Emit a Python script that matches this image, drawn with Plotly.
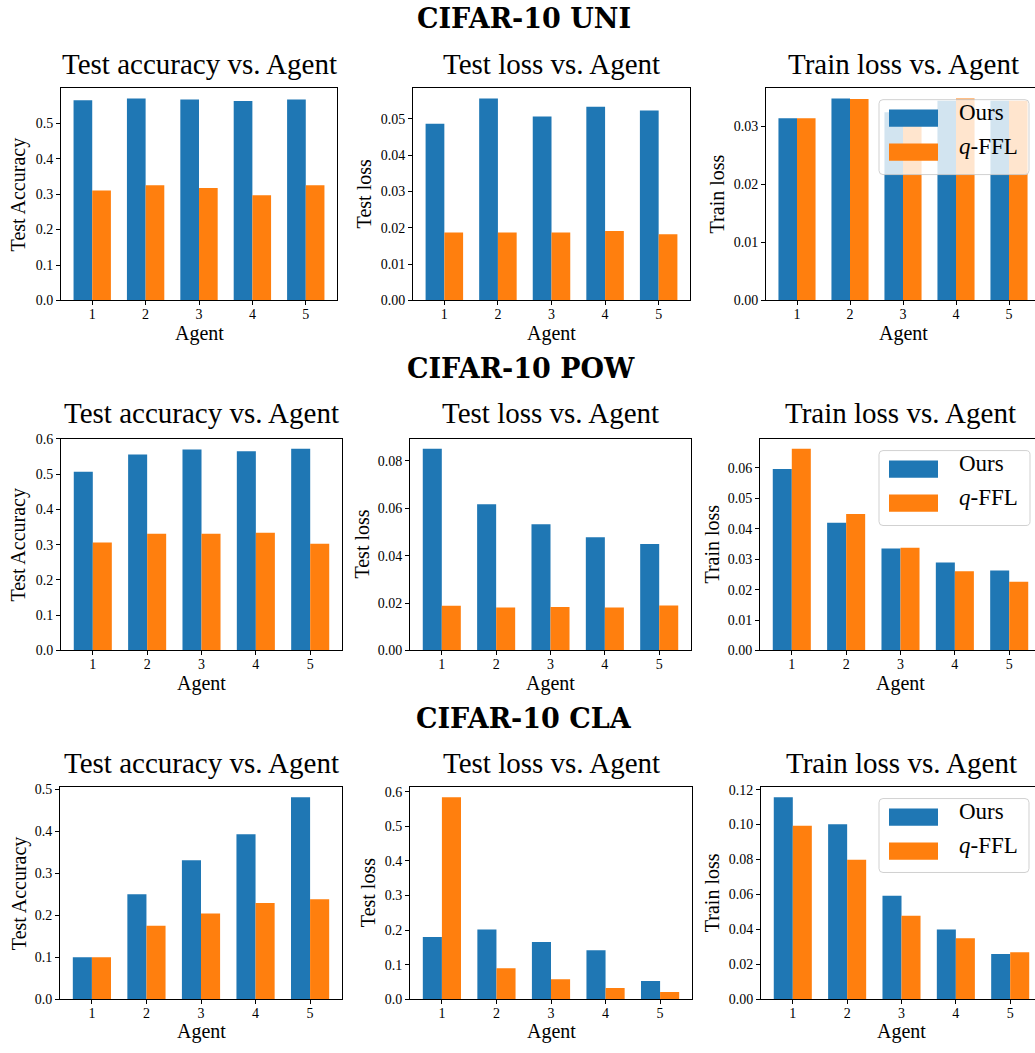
import plotly.graph_objects as go

W, H = 1035, 1053
BLUE = "#1f77b4"
ORANGE = "#ff7f0e"
SERIF = "Liberation Serif"

agents = [1, 2, 3, 4, 5]
series_names = ["Ours", "<i>q</i>-FFL"]
row_titles = ["CIFAR-10 UNI", "CIFAR-10 POW", "CIFAR-10 CLA"]
panel_titles = ["Test accuracy vs. Agent", "Test loss vs. Agent", "Train loss vs. Agent"]
y_labels = ["Test Accuracy", "Test loss", "Train loss"]

# CIFAR-10 UNI
uni_acc_ours = [0.565, 0.570, 0.567, 0.563, 0.567]
uni_acc_qffl = [0.310, 0.325, 0.317, 0.297, 0.325]
uni_testloss_ours = [0.0486, 0.0556, 0.0506, 0.0533, 0.0523]
uni_testloss_qffl = [0.0187, 0.0187, 0.0187, 0.0191, 0.0182]
uni_trainloss_ours = [0.0314, 0.0348, 0.0324, 0.0344, 0.0344]
uni_trainloss_qffl = [0.0314, 0.0347, 0.0302, 0.0348, 0.0344]

# CIFAR-10 POW
pow_acc_ours = [0.507, 0.556, 0.570, 0.565, 0.572]
pow_acc_qffl = [0.306, 0.331, 0.331, 0.334, 0.303]
pow_testloss_ours = [0.0851, 0.0617, 0.0533, 0.0478, 0.0449]
pow_testloss_qffl = [0.0188, 0.0181, 0.0183, 0.0181, 0.0190]
pow_trainloss_ours = [0.0597, 0.0420, 0.0335, 0.0289, 0.0263]
pow_trainloss_qffl = [0.0663, 0.0449, 0.0338, 0.0260, 0.0226]

# CIFAR-10 CLA
cla_acc_ours = [0.100, 0.250, 0.331, 0.393, 0.481]
cla_acc_qffl = [0.100, 0.175, 0.204, 0.229, 0.238]
cla_testloss_ours = [0.180, 0.202, 0.166, 0.142, 0.053]
cla_testloss_qffl = [0.584, 0.090, 0.058, 0.033, 0.021]
cla_trainloss_ours = [0.1157, 0.1002, 0.0593, 0.0399, 0.0260]
cla_trainloss_qffl = [0.0993, 0.0799, 0.0479, 0.0349, 0.0269]

data = [
    [(uni_acc_ours, uni_acc_qffl), (uni_testloss_ours, uni_testloss_qffl), (uni_trainloss_ours, uni_trainloss_qffl)],
    [(pow_acc_ours, pow_acc_qffl), (pow_testloss_ours, pow_testloss_qffl), (pow_trainloss_ours, pow_trainloss_qffl)],
    [(cla_acc_ours, cla_acc_qffl), (cla_testloss_ours, cla_testloss_qffl), (cla_trainloss_ours, cla_trainloss_qffl)],
]

# tick spacing / label format per panel
tick_steps = [[0.1, 0.01, 0.01], [0.1, 0.02, 0.01], [0.1, 0.1, 0.02]]
tick_formats = [[".1f", ".2f", ".2f"], [".1f", ".2f", ".2f"], [".1f", ".1f", ".2f"]]

# panel frames in pixels: (left, right, top, bottom); the third column runs past the page edge
frames = [
    [(61, 337, 82.5, 297.7), (413, 690, 82.5, 297.7), (766, 1040, 82.5, 297.7)],
    [(61, 342, 438, 652.7), (410, 691, 438, 652.7), (760, 1041, 438, 652.7)],
    [(60, 342, 791.3, 1006.7), (410, 692, 791.3, 1006.7), (761, 1042, 791.3, 1006.7)],
]
row_title_y = [18, 373, 728]
row_title_x = [524, 521, 524]
panel_title_y = [64.5, 419, 774]
agent_label_y = [331, 686, 1039.5]
ylabel_x = [[18, 364, 717], [19, 362, 712], [19, 368, 712]]
legend_boxes = [(879, 94, 1029, 170), (879, 450, 1030, 526), (879, 803, 1029, 878)]

X_LO, X_HI = 0.415, 5.585


def px(x):
    return x / W


def py(y):
    return 1 - y / H


def text_note(text, x, y, size, family=SERIF, angle=0, xanchor="center", lift=0.24):
    # text boxes sit a little low relative to the cap height; lift by a fraction of the font size
    y = y - lift * size
    return dict(
        text=text, x=px(x), y=py(y), xref="paper", yref="paper",
        xanchor=xanchor, yanchor="middle", showarrow=False, textangle=angle,
        font=dict(family=family, size=size, color="black"),
    )


fig = go.Figure()
layout = dict(
    width=W, height=H,
    margin=dict(l=0, r=0, t=0, b=0),
    paper_bgcolor="white", plot_bgcolor="white",
    barmode="group", bargap=0.3, bargroupgap=0,
    showlegend=False,
    font=dict(family=SERIF, color="black"),
)
annotations = []
shapes = []

k = 0
for r in range(3):
    annotations.append(text_note("<b>%s</b>" % row_titles[r], row_title_x[r], row_title_y[r],
                                 27, family="DejaVu Serif"))
    for c in range(3):
        k += 1
        xa = "x" if k == 1 else "x%d" % k
        ya = "y" if k == 1 else "y%d" % k
        ours, qffl = data[r][c]
        for vals, col, name in ((ours, BLUE, series_names[0]), (qffl, ORANGE, series_names[1])):
            fig.add_trace(go.Bar(
                x=agents, y=vals, name=name, xaxis=xa, yaxis=ya,
                marker=dict(color=col, line=dict(width=0)),
            ))
        left, right, top, bottom = frames[r][c]
        vis_right = min(right, W)
        x_hi = X_LO + (X_HI - X_LO) * (vis_right - left) / (right - left)
        ymax = max(max(ours), max(qffl)) * 1.05
        layout["xaxis" if k == 1 else "xaxis%d" % k] = dict(
            domain=[px(left), px(vis_right)], range=[X_LO, x_hi], anchor=ya,
            tickmode="array", tickvals=agents, ticktext=[str(a) for a in agents],
            ticks="outside", ticklen=4, tickwidth=1, tickcolor="black",
            ticklabelstandoff=-3,
            showline=True, linecolor="black", linewidth=1, mirror=True,
            showgrid=False, zeroline=False,
            tickfont=dict(family=SERIF, size=14, color="black"),
        )
        layout["yaxis" if k == 1 else "yaxis%d" % k] = dict(
            domain=[py(bottom), py(top)], range=[0, ymax], anchor=xa,
            tick0=0, dtick=tick_steps[r][c], tickformat=tick_formats[r][c],
            ticks="outside", ticklen=4, tickwidth=1, tickcolor="black",
            showline=True, linecolor="black", linewidth=1, mirror=(c < 2),
            showgrid=False, zeroline=False,
            tickfont=dict(family=SERIF, size=14, color="black"),
        )
        cx = (left + right) / 2
        annotations.append(text_note(panel_titles[c], cx, panel_title_y[r], 29))
        annotations.append(text_note("Agent", cx, agent_label_y[r] + 2, 20, lift=0.1))
        annotations.append(text_note(y_labels[c], ylabel_x[r][c], (top + bottom) / 2, 20,
                                     angle=-90, lift=0))

    # legend drawn inside the train-loss panel
    x0, y0, x1, y1 = legend_boxes[r]
    rad = 4
    pts = [
        ("M", x0 + rad, y0), ("L", x1 - rad, y0), ("Q", x1, y0, x1, y0 + rad),
        ("L", x1, y1 - rad), ("Q", x1, y1, x1 - rad, y1), ("L", x0 + rad, y1),
        ("Q", x0, y1, x0, y1 - rad), ("L", x0, y0 + rad), ("Q", x0, y0, x0 + rad, y0),
    ]
    path = ""
    for p in pts:
        cmd = p[0]
        coords = p[1:]
        seg = []
        for i in range(0, len(coords), 2):
            seg.append("%.5f,%.5f" % (px(coords[i]), py(coords[i + 1])))
        path += cmd + " ".join(seg) + " "
    shapes.append(dict(
        type="path", path=path + "Z", xref="paper", yref="paper", layer="above",
        fillcolor="rgba(255,255,255,0.8)", line=dict(color="rgba(204,204,204,0.9)", width=1),
    ))
    for j, (col, name) in enumerate(((BLUE, series_names[0]), (ORANGE, series_names[1]))):
        hy0 = y0 + 10 + j * 34.5
        shapes.append(dict(
            type="rect", xref="paper", yref="paper", layer="above",
            x0=px(x0 + 10), x1=px(x0 + 59), y0=py(hy0), y1=py(hy0 + 17.5),
            fillcolor=col, line=dict(width=0),
        ))
        annotations.append(text_note(name, x0 + 78, hy0 + 9, 23, xanchor="left"))

layout["annotations"] = annotations
layout["shapes"] = shapes
fig.update_layout(**layout)
fig.write_html("out.html")
